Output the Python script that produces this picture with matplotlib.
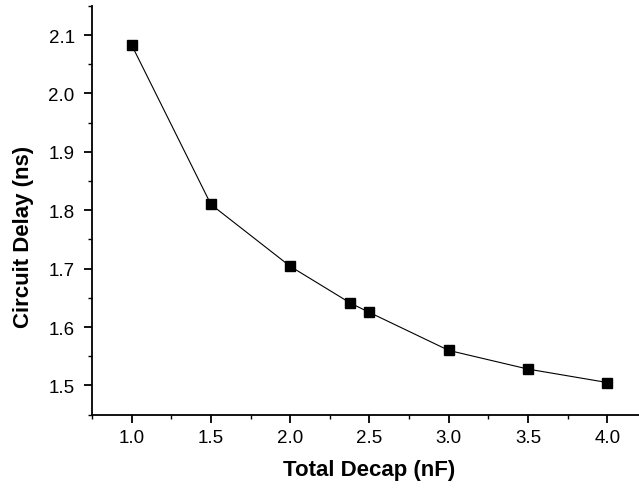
import matplotlib
matplotlib.use("Agg")
import matplotlib.pyplot as plt
from matplotlib.ticker import MultipleLocator

# total decoupling capacitance (nF) vs. measured circuit delay (ns)
decap_nf = [1.0, 1.5, 2.0, 2.38, 2.5, 3.0, 3.5, 4.0]
delay_ns = [2.083, 1.810, 1.704, 1.641, 1.625, 1.560, 1.528, 1.505]

plt.rcParams['font.family'] = ['Liberation Sans', 'DejaVu Sans']

fig = plt.figure(figsize=(6.39, 4.89), dpi=100)
ax = fig.add_axes([0.144, 0.150, 0.856, 0.836])

ax.plot(decap_nf, delay_ns, color='black', linewidth=0.8,
        marker='s', markersize=6.5, markerfacecolor='black',
        markeredgecolor='black', clip_on=False)

ax.set_xlim(0.75, 4.2)
ax.set_ylim(1.45, 2.15)
ax.xaxis.set_major_locator(MultipleLocator(0.5))
ax.xaxis.set_minor_locator(MultipleLocator(0.25))
ax.yaxis.set_major_locator(MultipleLocator(0.1))
ax.yaxis.set_minor_locator(MultipleLocator(0.05))
ax.xaxis.set_major_formatter(plt.FormatStrFormatter('%.1f'))
ax.yaxis.set_major_formatter(plt.FormatStrFormatter('%.1f'))

for side in ('top', 'right'):
    ax.spines[side].set_visible(False)
for side in ('left', 'bottom'):
    ax.spines[side].set_linewidth(1.3)

ax.tick_params(which='major', direction='out', length=5.5, width=1.3,
               labelsize=13.5)
ax.tick_params(which='minor', direction='out', length=3, width=1.0)
ax.tick_params(axis='x', which='major', pad=5)
ax.tick_params(axis='y', which='major', pad=7)

ax.set_xlabel('Total Decap (nF)', fontsize=16, fontweight='bold')
ax.set_ylabel('Circuit Delay (ns)', fontsize=16, fontweight='bold')
ax.xaxis.set_label_coords(0.506, -0.134)
ax.xaxis.label.set_va('center')
ax.yaxis.set_label_coords(-0.126, 0.436)
ax.yaxis.label.set_va('center')

fig.savefig('out.png', dpi=100)
